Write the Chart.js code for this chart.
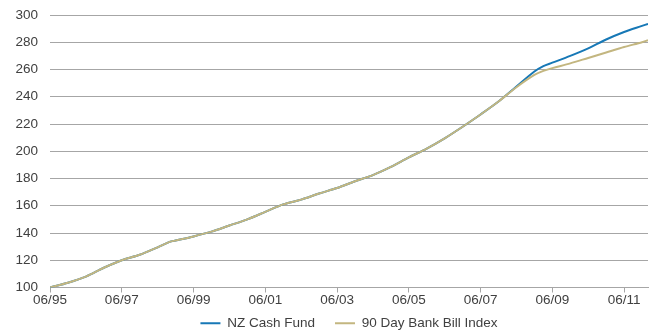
<!DOCTYPE html>
<html>
<head>
<meta charset="utf-8">
<script src="https://cdn.jsdelivr.net/npm/chart.js@4"></script>
<style>
  html, body { margin: 0; padding: 0; background: #fff; }
  #wrap { width: 654px; height: 332px; }
</style>
</head>
<body>
<div id="wrap"><canvas id="fundChart" width="654" height="332"></canvas></div>
<script>
// months since 06/95
const months = [0, 6, 12, 18, 24, 30, 36, 40, 42, 48, 54, 60, 66, 72, 78, 84, 90, 96, 102, 108, 114, 120, 126, 132, 138, 144, 150, 156, 162, 165, 168, 174, 180, 186, 192, 198, 200];
const nzCashFund = [100, 103.5, 108, 114.5, 120, 124, 129.5, 133.5, 134.5, 137.5, 141, 145.5, 150, 155.5, 161, 164.5, 169, 173, 178, 182.5, 188.5, 195.5, 202, 209.5, 218, 227, 236.5, 247.5, 258.5, 262.5, 265, 270, 275.5, 282, 287.5, 292, 293.5];
const bankBill = [100, 103.5, 108, 114.5, 120, 124, 129.5, 133.5, 134.5, 137.5, 141, 145.5, 150, 155.5, 161, 164.5, 169, 173, 178, 182.5, 188.5, 195.5, 202, 209.5, 218, 227, 236.5, 247, 256, 259, 261, 264.5, 268.5, 272.5, 276.5, 280, 281.5];
const tickMonths = [0, 24, 48, 72, 96, 120, 144, 168, 192];
const tickLabels = ['06/95', '06/97', '06/99', '06/01', '06/03', '06/05', '06/07', '06/09', '06/11'];

const toPoints = vals => vals.map((v, i) => ({ x: months[i], y: v }));
const font = { family: "'Liberation Sans', Arial, sans-serif", size: 13.5 };
const textColor = '#404040';
const gridColor = '#a6a6a6';

new Chart(document.getElementById('fundChart'), {
  type: 'line',
  data: {
    datasets: [
      {
        label: 'NZ Cash Fund',
        data: toPoints(nzCashFund),
        borderColor: '#1778b6',
        backgroundColor: '#1778b6',
        borderWidth: 2,
        pointRadius: 0,
        tension: 0.3,
        order: 2
      },
      {
        label: '90 Day Bank Bill Index',
        data: toPoints(bankBill),
        borderColor: '#c3b680',
        backgroundColor: '#c3b680',
        borderWidth: 2,
        pointRadius: 0,
        tension: 0.3,
        order: 1
      }
    ]
  },
  options: {
    responsive: false,
    animation: false,
    layout: { padding: { top: 15, right: 6, left: 0, bottom: -8 } },
    plugins: {
      tooltip: { enabled: false },
      legend: {
        position: 'bottom',
        fullSize: false,
        labels: {
          font: font,
          color: textColor,
          boxWidth: 20,
          boxHeight: 0,
          padding: 20,
          sort: (a, b) => a.datasetIndex - b.datasetIndex
        }
      }
    },
    scales: {
      x: {
        type: 'linear',
        min: 0,
        max: 200,
        afterBuildTicks: scale => { scale.ticks = tickMonths.map(v => ({ value: v })); },
        afterFit: scale => {
          // thin box so the legend sits close; let the labels draw below it
          scale.height = 9;
          scale.paddingLeft = 0;
          scale.paddingRight = 0;
          scale._computeLabelArea = () => undefined;
        },
        ticks: {
          font: font,
          color: textColor,
          padding: 0,
          maxRotation: 0,
          autoSkip: false,
          callback: (v) => tickLabels[tickMonths.indexOf(v)]
        },
        grid: { drawOnChartArea: false, drawTicks: true, tickLength: 5, color: gridColor },
        border: { color: gridColor }
      },
      y: {
        min: 100,
        max: 300,
        afterFit: scale => { scale.width = 50; scale.paddingTop = 0; scale.paddingBottom = 0; },
        ticks: { stepSize: 20, font: font, color: textColor, padding: 12 },
        grid: { color: gridColor, drawTicks: false },
        border: { display: false }
      }
    }
  }
});
</script>
</body>
</html>
